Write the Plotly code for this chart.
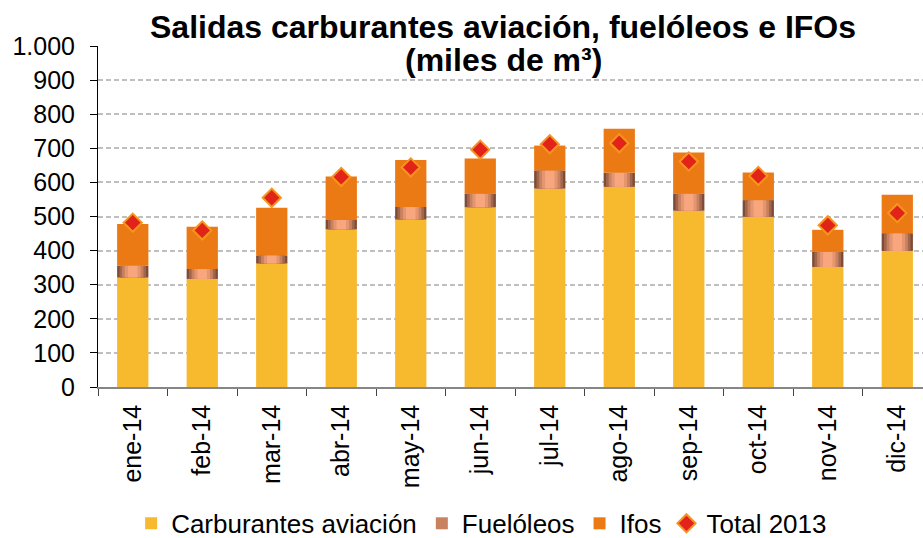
import plotly.graph_objects as go

# Salidas mensuales 2014 (miles de m3)
meses = ["ene-14", "feb-14", "mar-14", "abr-14", "may-14", "jun-14",
         "jul-14", "ago-14", "sep-14", "oct-14", "nov-14", "dic-14"]
aviacion = [321, 317, 362, 462, 491, 527, 582, 587, 517, 499, 352, 399]
fueloleos = [35, 29, 24, 28, 37, 40, 53, 41, 50, 49, 44, 52]
ifos = [122, 124, 140, 127, 138, 103, 73, 129, 121, 81, 65, 113]
total_2013 = [482, 459, 555, 616, 644, 696, 712, 715, 661, 619, 474, 510]

FONT = "Liberation Sans, Arial, sans-serif"
BAR_W = 0.45

base_fuel = aviacion
base_ifos = [a + f for a, f in zip(aviacion, fueloleos)]

fig = go.Figure()

fig.add_trace(go.Bar(
    x=meses, y=aviacion, base=0, width=BAR_W,
    name="Carburantes aviación", marker_color="#F7B92E",
    marker_line_width=0, legendrank=1,
))

# fuelóleos: cylinder-like shading built from narrower overlaid bars
shades = [(1.00, "#7D4C38"), (0.85, "#A4664B"), (0.68, "#C98260"),
          (0.50, "#E59670"), (0.30, "#F8A67D")]
for i, (k, col) in enumerate(shades):
    fig.add_trace(go.Bar(
        x=meses, y=fueloleos, base=base_fuel, width=BAR_W * k,
        name="Fuelóleos", marker_color=col, marker_line_width=0,
        showlegend=(i == 2), legendrank=2,
    ))

fig.add_trace(go.Bar(
    x=meses, y=ifos, base=base_ifos, width=BAR_W,
    name="Ifos", marker_color="#EC7A14", marker_line_width=0,
    legendrank=3,
))

fig.add_trace(go.Scatter(
    x=meses, y=total_2013, mode="markers", name="Total 2013",
    marker=dict(symbol="diamond", size=14, color="#E2231A",
                line=dict(color="#F7941D", width=2)),
    legendrank=4,
))

fig.update_layout(
    width=923, height=538,
    barmode="overlay",
    separators=",.",
    paper_bgcolor="white", plot_bgcolor="white",
    font=dict(family=FONT, size=25, color="black"),
    margin=dict(l=98, r=0, t=46, b=151, autoexpand=False),
    showlegend=True,
    legend=dict(orientation="h", x=0.465, xanchor="center", y=-0.40,
                yanchor="middle", font=dict(size=26), itemwidth=30,
                tracegroupgap=0, bgcolor="rgba(0,0,0,0)"),
)

fig.add_annotation(text="<b>Salidas carburantes aviación, fuelóleos e IFOs</b>",
                   xref="paper", yref="paper", x=0.491, y=1.056,
                   xanchor="center", yanchor="middle", showarrow=False,
                   font=dict(size=32, family=FONT))
fig.add_annotation(text="<b>(miles de m³)</b>",
                   xref="paper", yref="paper", x=0.491, y=0.96,
                   xanchor="center", yanchor="middle", showarrow=False,
                   font=dict(size=32, family=FONT))

fig.update_yaxes(
    range=[0, 1000], dtick=100, tickformat=",d",
    showline=True, linecolor="black", linewidth=1,
    ticks="outside", ticklen=7, tickcolor="black",
    ticklabelstandoff=10,
    showgrid=True, gridcolor="#BFBFBF", gridwidth=1.5, griddash="5px,3px",
    zeroline=False, automargin=False,
)
# the last category runs slightly past the right edge, as in the original
fig.update_xaxes(
    range=[-0.5, 11.37],
    tickangle=-90, tickson="boundaries", ticks="outside", ticklen=7,
    tickcolor="#444", showline=True, linecolor="#868686", linewidth=1.5,
    showgrid=False, automargin=False, ticklabelstandoff=6,
)

fig.write_html("out.html", config={"displayModeBar": False},
               post_script="document.body.style.margin='0';")
